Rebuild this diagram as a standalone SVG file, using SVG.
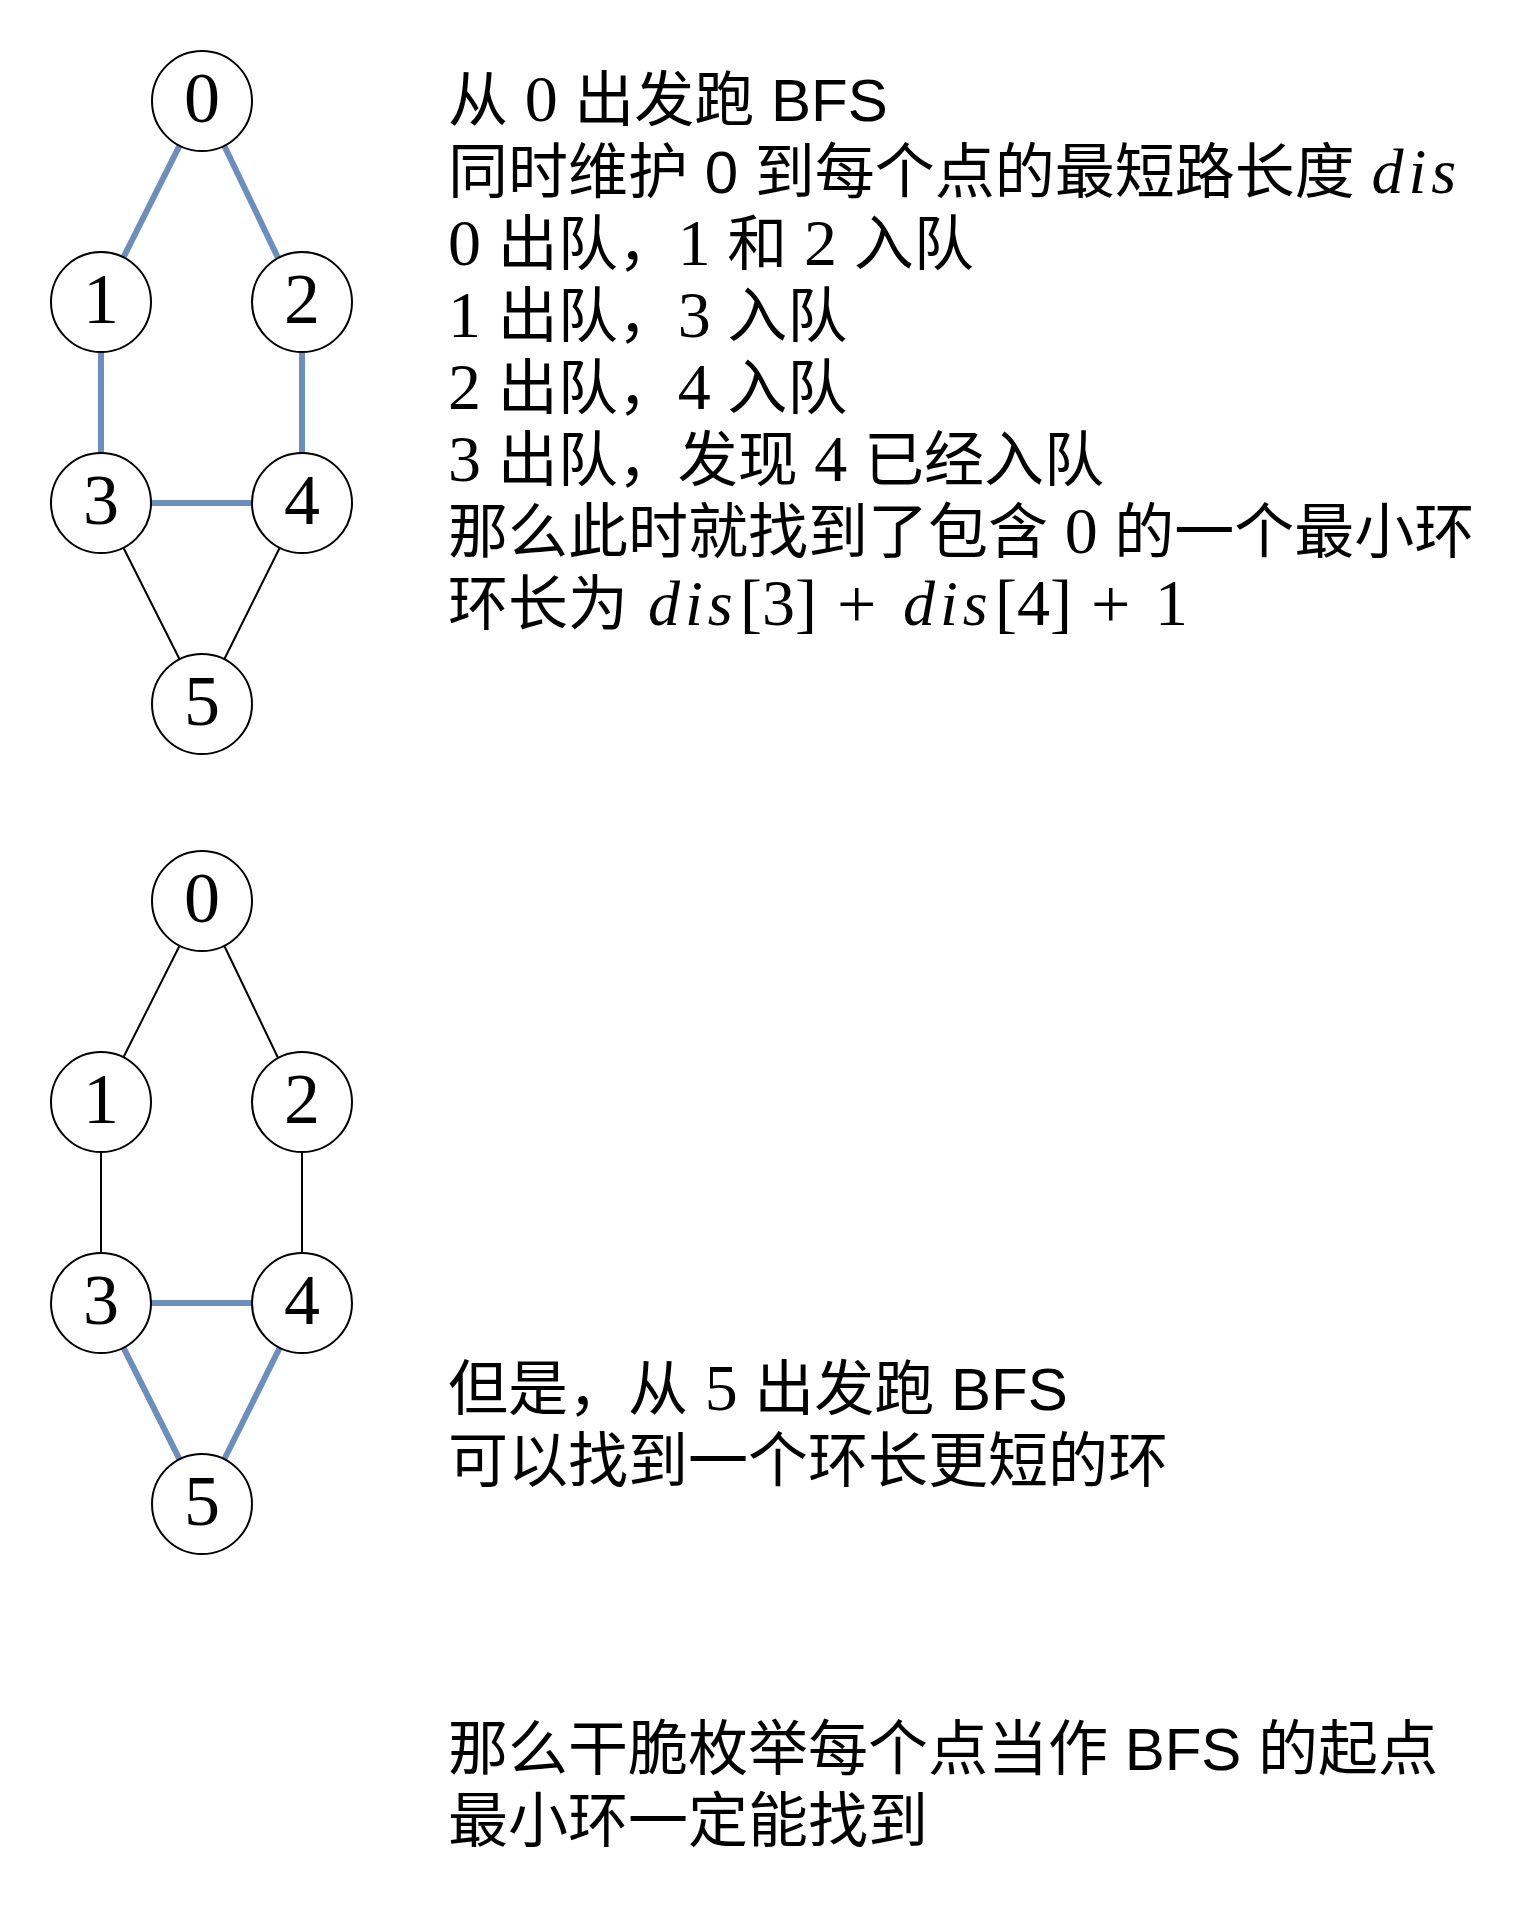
<svg xmlns="http://www.w3.org/2000/svg" width="1517" height="1910" viewBox="0 0 1517 1910">
<style>
.bg{fill:#ffffff}
.node circle{fill:#ffffff;stroke:#000000;stroke-width:2}
.node text{font-family:"Liberation Serif","DejaVu Serif",serif;font-size:72px;text-anchor:middle;fill:#000}
.e{stroke:#000000;stroke-width:2;fill:none}
.h{stroke:#6c8ebf;stroke-width:6;fill:none}
.t{font-family:"Liberation Sans","Noto Sans CJK SC",sans-serif;font-size:60px;fill:#000}
.m{font-family:"Liberation Serif",serif;font-size:66px}
.mi{font-family:"Liberation Serif",serif;font-style:italic;font-size:64px;letter-spacing:5px}
.mr{font-family:"Liberation Serif",serif;font-size:66px}
.pl{font-family:"Liberation Serif",serif;font-size:70px}
</style>
<rect class="bg" x="0" y="0" width="1517" height="1910"/>

<g id="connectors">
  <line class="h" x1="179.55" y1="145.68" x2="123.45" y2="257.32"/>
  <line class="h" x1="224.27" y1="145.77" x2="277.73" y2="257.23"/>
  <line class="h" x1="101" y1="352" x2="101" y2="453"/>
  <line class="h" x1="302" y1="352" x2="302" y2="453"/>
  <line class="h" x1="151" y1="503" x2="252" y2="503"/>
  <line class="e" x1="123.45" y1="547.68" x2="179.55" y2="659.32"/>
  <line class="e" x1="279.73" y1="547.77" x2="224.27" y2="659.23"/>
  <line class="e" x1="179.55" y1="945.68" x2="123.45" y2="1057.32"/>
  <line class="e" x1="224.27" y1="945.77" x2="277.73" y2="1057.23"/>
  <line class="e" x1="101" y1="1152" x2="101" y2="1253"/>
  <line class="e" x1="302" y1="1152" x2="302" y2="1253"/>
  <line class="h" x1="151" y1="1303" x2="252" y2="1303"/>
  <line class="h" x1="123.45" y1="1347.68" x2="179.55" y2="1459.32"/>
  <line class="h" x1="279.73" y1="1347.77" x2="224.27" y2="1459.23"/>
</g>

<g id="g1-n0" class="node"><circle cx="202" cy="101" r="50"/><text x="202" y="122">0</text></g>
<g id="g1-n1" class="node"><circle cx="101" cy="302" r="50"/><text x="101" y="323">1</text></g>
<g id="g1-n2" class="node"><circle cx="302" cy="302" r="50"/><text x="302" y="323">2</text></g>
<g id="g1-n3" class="node"><circle cx="101" cy="503" r="50"/><text x="101" y="524">3</text></g>
<g id="g1-n4" class="node"><circle cx="302" cy="503" r="50"/><text x="302" y="524">4</text></g>
<g id="g1-n5" class="node"><circle cx="202" cy="704" r="50"/><text x="202" y="725">5</text></g>

<g id="g2-n0" class="node"><circle cx="202" cy="901" r="50"/><text x="202" y="922">0</text></g>
<g id="g2-n1" class="node"><circle cx="101" cy="1102" r="50"/><text x="101" y="1123">1</text></g>
<g id="g2-n2" class="node"><circle cx="302" cy="1102" r="50"/><text x="302" y="1123">2</text></g>
<g id="g2-n3" class="node"><circle cx="101" cy="1303" r="50"/><text x="101" y="1324">3</text></g>
<g id="g2-n4" class="node"><circle cx="302" cy="1303" r="50"/><text x="302" y="1324">4</text></g>
<g id="g2-n5" class="node"><circle cx="202" cy="1504" r="50"/><text x="202" y="1525">5</text></g>

<g id="text-top" class="t">
  <text x="448" y="121">从 <tspan class="m">0</tspan> 出发跑 BFS</text>
  <text x="448" y="193">同时维护 0 到每个点的最短路长度 <tspan class="mi">dis</tspan></text>
  <text x="448" y="265"><tspan class="m">0</tspan> 出队，<tspan class="m">1</tspan> 和 <tspan class="m">2</tspan> 入队</text>
  <text x="448" y="337"><tspan class="m">1</tspan> 出队，<tspan class="m">3</tspan> 入队</text>
  <text x="448" y="409"><tspan class="m">2</tspan> 出队，<tspan class="m">4</tspan> 入队</text>
  <text x="448" y="481"><tspan class="m">3</tspan> 出队，发现 <tspan class="m">4</tspan> 已经入队</text>
  <text x="448" y="553">那么此时就找到了包含 <tspan class="m">0</tspan> 的一个最小环</text>
  <text x="448" y="625">环长为<tspan class="mi" x="648">dis</tspan><tspan class="mr" x="740">[</tspan><tspan class="mr" x="762">3</tspan><tspan class="mr" x="795">]</tspan><tspan class="pl" x="837" y="628">+</tspan><tspan class="mi" x="903" y="625">dis</tspan><tspan class="mr" x="995">[</tspan><tspan class="mr" x="1017">4</tspan><tspan class="mr" x="1050">]</tspan><tspan class="pl" x="1091" y="628">+</tspan><tspan class="mr" x="1155" y="625">1</tspan></text>
</g>

<g id="text-mid" class="t">
  <text x="448" y="1410">但是，从 <tspan class="m">5</tspan> 出发跑 BFS</text>
  <text x="448" y="1482">可以找到一个环长更短的环</text>
</g>

<g id="text-bottom" class="t">
  <text x="448" y="1770">那么干脆枚举每个点当作 BFS 的起点</text>
  <text x="448" y="1842">最小环一定能找到</text>
</g>
</svg>
